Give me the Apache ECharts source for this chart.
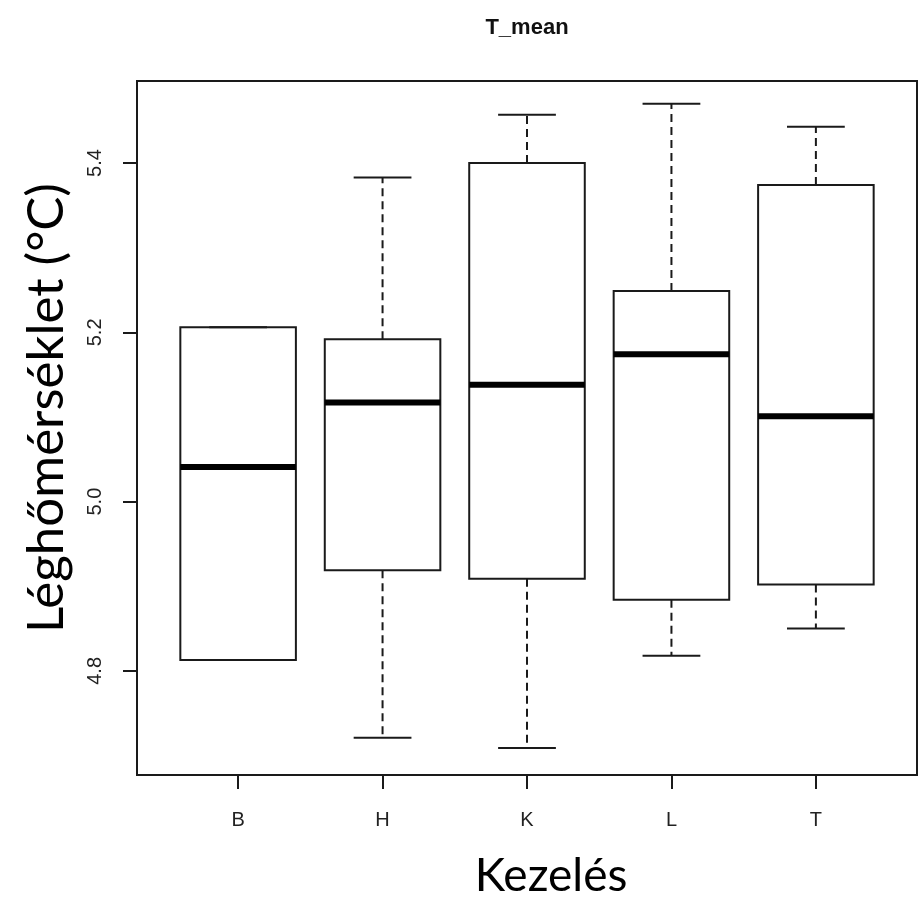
<!DOCTYPE html>
<html>
<head>
<meta charset="utf-8">
<script src="https://cdn.jsdelivr.net/npm/echarts@6/dist/echarts.min.js"></script>
<style>html,body{margin:0;padding:0;background:#fff}#c{width:918px;height:904px}</style>
</head>
<body>
<div id="c"></div>
<script>
// Data
const categories = ['B', 'H', 'K', 'L', 'T'];
const whiskerLow  = [4.813, 4.721, 4.709, 4.818, 4.850];
const q1          = [4.813, 4.919, 4.909, 4.884, 4.902];
const median      = [5.041, 5.117, 5.138, 5.174, 5.101];
const q3          = [5.206, 5.192, 5.400, 5.249, 5.374];
const whiskerHigh = [5.206, 5.383, 5.457, 5.470, 5.443];
const yTicks = [4.8, 5.0, 5.2, 5.4];
const xTicks = [1, 2, 3, 4, 5];

const boxData = categories.map((c, i) => [i + 1, whiskerLow[i], q1[i], median[i], q3[i], whiskerHigh[i]]);

const chart = echarts.init(document.getElementById('c'), null, {renderer: 'canvas'});
const ink = '#1a1a1a';

function renderItem(params, api) {
  const x = api.value(0);
  const lo = api.value(1), b1 = api.value(2), md = api.value(3), b3 = api.value(4), hi = api.value(5);
  const halfBox = 0.4, halfStaple = 0.2;
  const pL = api.coord([x - halfBox, b3]);
  const pR = api.coord([x + halfBox, b1]);
  const pc = (v) => api.coord([x, v]);
  const sl = (v) => api.coord([x - halfStaple, v]);
  const sr = (v) => api.coord([x + halfStaple, v]);
  const ml = api.coord([x - halfBox, md]);
  const mr = api.coord([x + halfBox, md]);
  const children = [];
  if (hi > b3) children.push({type: 'line', shape: {x1: pc(b3)[0], y1: pc(b3)[1], x2: pc(hi)[0], y2: pc(hi)[1]}, style: {stroke: ink, lineWidth: 2, lineDash: [8, 5]}});
  if (lo < b1) children.push({type: 'line', shape: {x1: pc(b1)[0], y1: pc(b1)[1], x2: pc(lo)[0], y2: pc(lo)[1]}, style: {stroke: ink, lineWidth: 2, lineDash: [8, 5]}});
  children.push({type: 'line', shape: {x1: sl(hi)[0], y1: sl(hi)[1], x2: sr(hi)[0], y2: sr(hi)[1]}, style: {stroke: ink, lineWidth: 2}});
  children.push({type: 'line', shape: {x1: sl(lo)[0], y1: sl(lo)[1], x2: sr(lo)[0], y2: sr(lo)[1]}, style: {stroke: ink, lineWidth: 2}});
  children.push({type: 'rect', shape: {x: pL[0], y: pL[1], width: pR[0] - pL[0], height: pR[1] - pL[1]}, style: {fill: 'none', stroke: ink, lineWidth: 2}});
  children.push({type: 'line', shape: {x1: ml[0], y1: ml[1], x2: mr[0], y2: mr[1]}, style: {stroke: '#000', lineWidth: 6}});
  return {type: 'group', children: children};
}

chart.setOption({
  animation: false,
  backgroundColor: '#ffffff',
  grid: {left: 137, right: 1, top: 81, bottom: 129, show: true, borderColor: ink, borderWidth: 2, backgroundColor: 'transparent'},
  xAxis: {
    type: 'value', min: 0.3, max: 5.7,
    axisLine: {show: false},
    splitLine: {show: false},
    axisTick: {show: true, customValues: xTicks, length: 14, lineStyle: {color: ink, width: 2}},
    axisLabel: {customValues: xTicks, formatter: (v) => categories[Math.round(v) - 1] || '', margin: 35, fontSize: 20, color: '#222', fontFamily: 'Liberation Sans'}
  },
  yAxis: {
    type: 'value', min: 4.677, max: 5.497,
    axisLine: {show: false},
    splitLine: {show: false},
    axisTick: {show: true, customValues: yTicks, length: 14, lineStyle: {color: ink, width: 2}},
    axisLabel: {customValues: yTicks, formatter: (v) => v.toFixed(1), rotate: 90, margin: 32, fontSize: 20, color: '#222', fontFamily: 'Liberation Sans'}
  },
  graphic: [
    {type: 'text', x: 527, y: 28, style: {text: 'T_mean', font: 'bold 22px "Liberation Sans"', fill: '#111', textAlign: 'center', textVerticalAlign: 'middle'}},
    {type: 'text', x: 47, y: 408, rotation: Math.PI / 2, style: {text: 'Léghőmérséklet (°C)', font: '51px Lato', fill: '#000', textAlign: 'center', textVerticalAlign: 'middle'}},
    {type: 'text', x: 551, y: 876, style: {text: 'Kezelés', font: '46px Lato', fill: '#000', textAlign: 'center', textVerticalAlign: 'middle'}}
  ],
  series: [{
    type: 'custom',
    renderItem: renderItem,
    encode: {x: 0, y: [1, 2, 3, 4, 5]},
    data: boxData
  }]
});
</script>
</body>
</html>
